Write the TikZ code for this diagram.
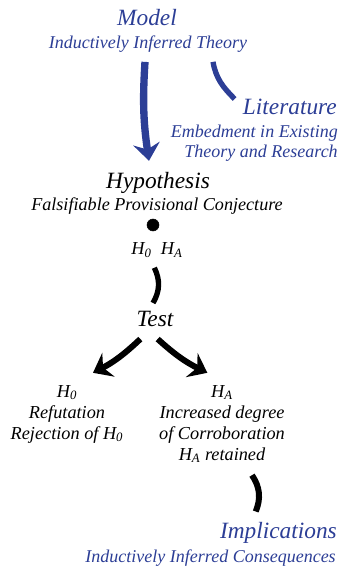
\documentclass[tikz,border=0pt]{standalone}
\usepackage{fontspec}
\setmainfont{Liberation Serif}[ItalicFont={Liberation Serif Italic}]
\usetikzlibrary{arrows.meta}
\definecolor{theoryblue}{RGB}{44,62,150}
\tikzset{
  title/.style={inner sep=0pt, font=\fontsize{17.5}{20}\selectfont\itshape},
  sub/.style={inner sep=0pt, font=\fontsize{13.5}{15}\selectfont\itshape},
  outcome/.style={inner sep=0pt, align=center, font=\fontsize{13.7}{15.75}\selectfont\itshape},
  bluelink/.style={theoryblue, line width=5pt},
  blacklink/.style={black, line width=4.5pt},
  bigtip/.style={-{Stealth[length=13pt, width=20pt, inset=4.5pt]}}
}
\begin{document}
\begin{tikzpicture}[x=0.75pt, y=-0.75pt]
            \useasboundingbox (0,0) rectangle (343,570);

            \node [title, theoryblue] (model) at (147,18) {Model}; % the model on top
            \node [sub, theoryblue] (theory) at (148,44) {Inductively Inferred Theory};
            \node [title, theoryblue, anchor=east] (lit) at (337,107) {Literature};
            \node [sub, theoryblue, anchor=east, align=right] (embed) at (338,143) {Embedment in Existing\\Theory and Research};

            \node [title] (hyp) at (158,183) {Hypothesis};
            \node [sub, font=\fontsize{13.6}{15}\selectfont\itshape] (conj) at (157,206) {Falsifiable Provisional Conjecture};
            \draw [fill] (153,225) circle [radius = 6]; % the dot under the conjecture
            \node [outcome] (pair) at (157,250) {H\textsubscript{0}\ \ H\textsubscript{A}};
            \node [title] (test) at (155,319) {Test};

            \node [outcome] (reject) at (67,414) {H\textsubscript{0}\\Refutation\\Rejection of H\textsubscript{0}}; % left outcome
            \node [outcome] (retain) at (222,424) {H\textsubscript{A}\\Increased degree\\of Corroboration\\H\textsubscript{A} retained}; % right outcome

            \node [title, theoryblue, anchor=east] (impl) at (337,533) {Implications};
            \node [sub, theoryblue, anchor=east] (cons) at (336,558) {Inductively Inferred Consequences};

            \draw [bluelink, line width=5.5pt, bigtip] ([xshift=-2.25pt, yshift=-7pt]theory.south) to [bend right=6] ([xshift=-6.75pt, yshift=8.5pt]hyp.north); % model down to hypothesis
            \draw [bluelink, line width=4pt] ([xshift=48.75pt, yshift=-7pt]theory.south) to [out=-80, in=135] ([xshift=-6pt, yshift=6pt]lit.west); % literature feeds the model
            \draw [blacklink, line width=4pt] ([xshift=-2pt, yshift=-7.5pt]pair.south) to [bend left=28] ([xshift=-1.5pt, yshift=6pt]test.north);
            \draw [blacklink, bigtip] ([xshift=-11pt, yshift=-9pt]test.south) to [bend left=8] ([xshift=19.5pt, yshift=9pt]reject.north);
            \draw [blacklink, bigtip] ([xshift=2pt, yshift=-9pt]test.south) to [bend right=8] ([xshift=-11pt, yshift=9pt]retain.north);
            \draw [blacklink, line width=4.5pt] ([xshift=22.5pt, yshift=-9pt]retain.south) to [bend left=28] ([xshift=-17pt, yshift=8pt]impl.north);
      \end{tikzpicture}
\end{document}
